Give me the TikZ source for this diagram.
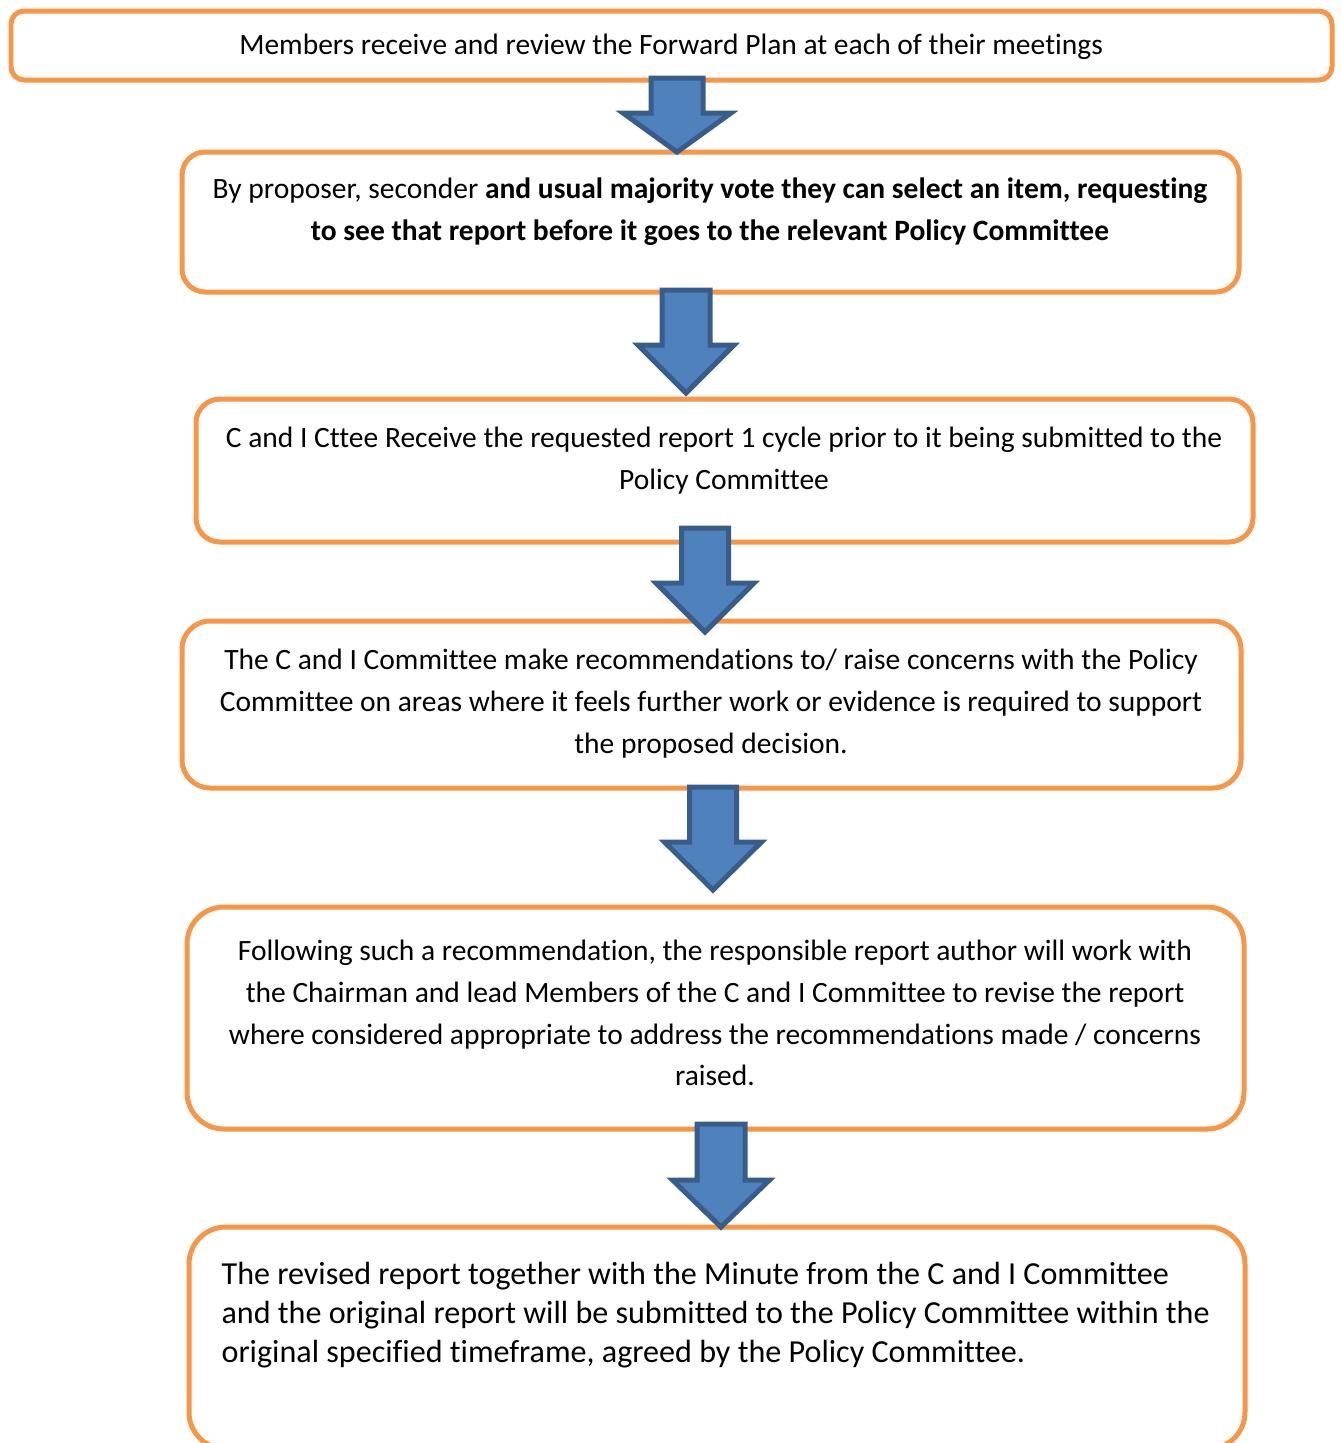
\documentclass[tikz,border=0pt]{standalone}
\usepackage{fontspec}
\setmainfont{Carlito}[Ligatures=NoCommon]
\usetikzlibrary{calc}
\definecolor{boxorange}{HTML}{F79646}
\definecolor{arrowfill}{HTML}{4F81BD}
\definecolor{arrowline}{HTML}{385D8A}
\tikzset{
  flowbox/.style={draw=boxorange, line width=1.6pt, rounded corners=#1, outer sep=0pt, inner sep=0pt, fill=white},
  flowtext/.style={font=\fontsize{9.44}{13.4}\selectfont, align=center, inner sep=0pt},
  bigtext/.style={font=\fontsize{10.27}{12.5}\selectfont, align=left, inner sep=0pt},
  blockarrow/.style={draw=arrowline, fill=arrowfill, line width=1.6pt, line join=miter},
}
% name, x1, y1, x2, y2, corner radius
\newcommand\mkbox[6]{%
  \node[flowbox=#6, minimum width={(#4-#2)*0.32pt}, minimum height={(#5-#3)*0.32pt}] (#1) at ({(#2+#4)/2},{(#3+#5)/2}) {};}
% from, to, x, top shift, tip shift, shaft half width, head half width, head length
\newcommand\mkarrow[8]{%
  \coordinate (ax) at (#3,0);
  \coordinate (atopc) at (ax |- #1.south);
  \coordinate (atipc) at (ax |- #2.north);
  \coordinate (atop) at ($(atopc)+(0,#4)$);
  \coordinate (atip) at ($(atipc)+(0,#5)$);
  \draw[blockarrow] ($(atop)+(-#6,0)$) -- ($(atop)+(#6,0)$) -- ($(atip)+(#6,-#8)$) -- ($(atip)+(#7,-#8)$) -- (atip) -- ($(atip)+(-#7,-#8)$) -- ($(atip)+(-#6,-#8)$) -- cycle;}
\begin{document}
\begin{tikzpicture}[x=0.32pt, y=-0.32pt]
\useasboundingbox (0,0) rectangle (1341,1443);
\clip (0,0) rectangle (1341,1443);
\fill[white] (0,0) rectangle (1341,1443);

\mkbox{b1}{11}{11}{1332}{80}{4.2pt}
\mkbox{b2}{182}{152}{1239}{292}{7.4pt}
\mkbox{b3}{196}{399}{1253}{542}{7.7pt}
\mkbox{b4}{182}{621}{1241}{788}{9pt}
\mkbox{b5}{187}{907}{1244}{1129}{11.8pt}
\mkbox{b6}{189}{1227}{1245}{1449}{11.8pt}

\node[flowtext] (t1) at (671,47) {Members receive and review the Forward Plan at each of their meetings};
\node[flowtext] (t2) at (710,211.5) {By proposer, seconder \textbf{and usual majority vote they can select an item, requesting}\\ \textbf{to see that report before it goes to the relevant Policy Committee}};
\node[flowtext] (t3) at (724,460.5) {C and I Cttee Receive the requested report 1 cycle prior to it being submitted to the\\ Policy Committee};
\node[flowtext] (t4) at (711,703.5) {The C and I Committee make recommendations to/ raise concerns with the Policy\\ Committee on areas where it feels further work or evidence is required to support\\ the proposed decision.};
\node[flowtext] (t5) at (715,1013) {Following such a recommendation, the responsible report author will work with\\ the Chairman and lead Members of the C and I Committee to revise the report\\ where considered appropriate to address the recommendations made / concerns\\ raised.};
\node[bigtext, anchor=west] (t6) at (221,1315) {The revised report together with the Minute from the C and I Committee\\ and the original report will be submitted to the Policy Committee within the\\ original specified timeframe, agreed by the Policy Committee.};

\mkarrow{b1}{b2}{677}{-2}{0}{26}{54}{39}
\mkarrow{b2}{b3}{686}{-2}{-6}{24}{48}{48}
\mkarrow{b3}{b4}{705}{-14}{11}{23.5}{49}{49}
\mkarrow{b4}{b5}{713}{-1}{-17}{23.5}{48.5}{48}
\mkarrow{b5}{b6}{721}{-5}{0}{24}{48.5}{47}
\end{tikzpicture}
\end{document}
